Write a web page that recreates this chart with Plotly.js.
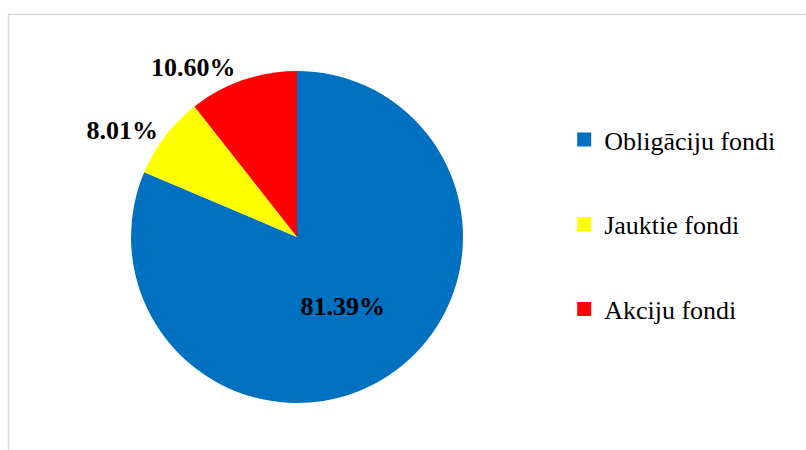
<!DOCTYPE html>
<html>
<head>
<meta charset="utf-8">
<script src="https://cdn.plot.ly/plotly-3.0.1.min.js"></script>
<style>html,body{margin:0;padding:0;background:#fff;}#chart{width:806px;height:450px;}</style>
</head>
<body>
<div id="chart"></div>
<script>
const categories = ['Obligāciju fondi', 'Jauktie fondi', 'Akciju fondi'];
const shares = [81.39, 8.01, 10.60];
const colors = ['#0070C0', '#FFFF00', '#FF0000'];
const textPositions = ['inside', 'outside', 'outside'];

const serif = '"Liberation Serif", "Times New Roman", serif';

const pie = {
  type: 'pie',
  labels: categories,
  values: shares,
  sort: false,
  direction: 'clockwise',
  rotation: 0,
  marker: {colors: colors, line: {width: 0}},
  textinfo: 'percent',
  texttemplate: '%{percent:.2%}',
  textposition: textPositions,
  insidetextorientation: 'horizontal',
  textfont: {family: serif, size: 26, color: '#000000', weight: 'bold'},
  showlegend: false,
  hoverinfo: 'none',
  domain: {x: [131/806, 463/806], y: [47/450, 379/450]}
};

const legendTraces = categories.map((c, i) => ({
  type: 'scatter',
  mode: 'markers',
  x: [null], y: [null],
  name: c,
  legendgroup: 'g' + i,
  marker: {symbol: 'square', size: 14, color: colors[i]},
  showlegend: true,
  hoverinfo: 'none'
}));

const layout = {
  width: 806, height: 450,
  margin: {l: 0, r: 0, t: 0, b: 0},
  paper_bgcolor: '#ffffff',
  plot_bgcolor: 'rgba(0,0,0,0)',
  xaxis: {visible: false},
  yaxis: {visible: false},
  showlegend: true,
  legend: {
    x: 0.700, y: 1 - 116/450, xanchor: 'left', yanchor: 'top',
    font: {family: serif, size: 26, color: '#000000'},
    tracegroupgap: 48,
    itemwidth: 30,
    bgcolor: 'rgba(0,0,0,0)'
  },
  shapes: [{
    type: 'rect', xref: 'paper', yref: 'paper',
    x0: 8.5/806, x1: 1.2, y0: -0.2, y1: (450-14.5)/450,
    line: {color: '#d9d9d9', width: 1.5}, fillcolor: 'rgba(0,0,0,0)', layer: 'below'
  }]
};

Plotly.newPlot('chart', [pie].concat(legendTraces), layout, {displayModeBar: false, staticPlot: true});
</script>
</body>
</html>
